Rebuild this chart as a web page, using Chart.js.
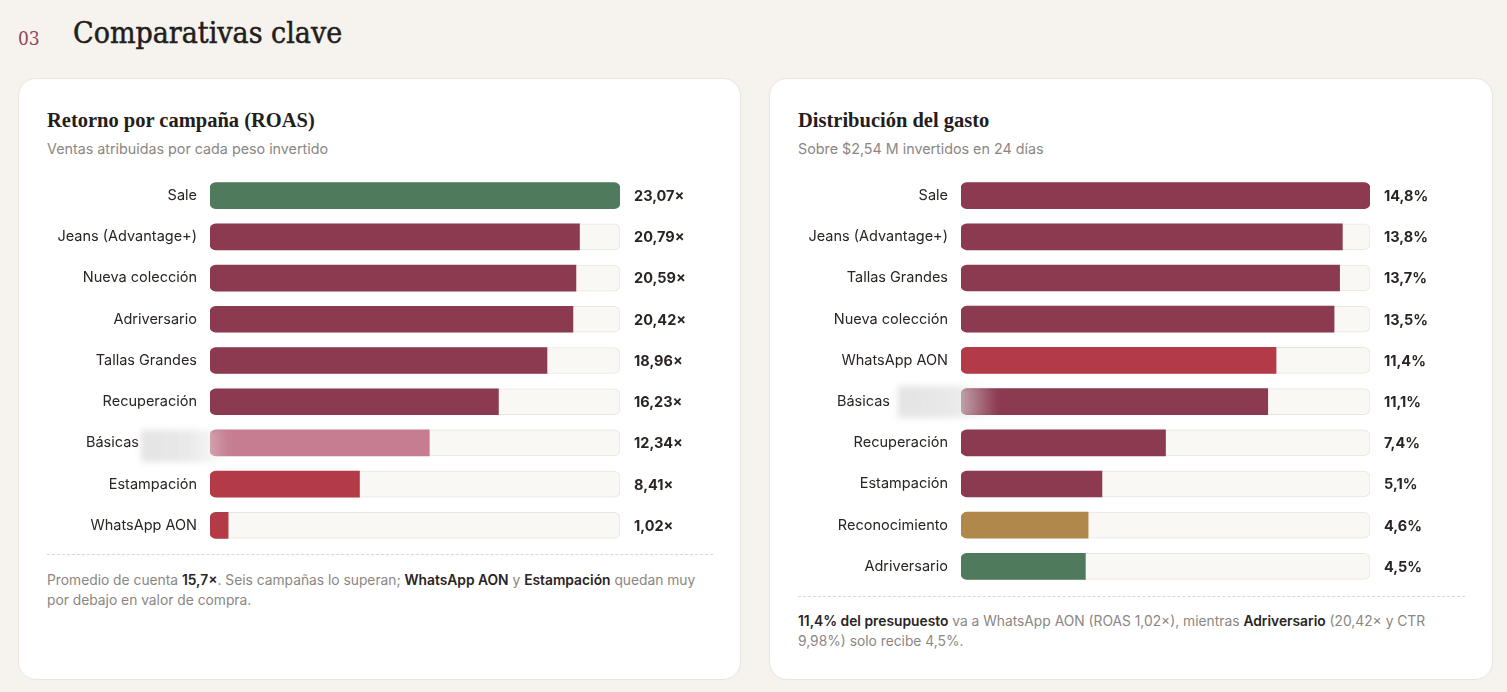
<!DOCTYPE html>
<html lang="es">
<head>
<meta charset="utf-8">
<title>Comparativas clave</title>
<script src="https://cdn.jsdelivr.net/npm/chart.js@4.4.1/dist/chart.umd.min.js"></script>
<style>
html, body { margin: 0; padding: 0; }
body { width: 1507px; height: 692px; background: #f6f2ee; position: relative; overflow: hidden;
       font-family: Inter, "Noto Sans", sans-serif; color: #2a2422; }
.abs { position: absolute; }
.num { left: 18px; top: 26px; font: 19px "DejaVu Serif", serif; font-stretch: condensed; line-height: 24px; color: #8e4558; }
.h1 { left: 73px; top: 13px; font: 30px "DejaVu Serif", serif; font-stretch: condensed; line-height: 40px; color: #231d1b;
      margin: 0; font-weight: normal; -webkit-text-stroke: 0.5px #231d1b; }
.card { background: #fff; border: 1px solid #ebe5df; border-radius: 18px; box-sizing: border-box; top: 78px; height: 602px; }
.ctitle { font: bold 20.5px "Liberation Serif", serif; line-height: 24px; top: 108px; color: #231d1b; }
.csub { font-size: 14.3px; line-height: 18px; color: #8b8682; top: 140px; }
.sep { height: 0; border-top: 1px dashed #ddd7d1; }
.note { font-size: 13.8px; line-height: 20px; color: #8b8682; }
.note b { color: #2a2422; font-weight: 600; }
.blur { background: linear-gradient(to right, rgba(226,226,226,0.95), rgba(226,226,226,0.75) 55%, rgba(226,226,226,0)); filter: blur(3px); }
</style>
</head>
<body>
<script>
// ROAS por campaña
const roasLabels = ["Sale", "Jeans (Advantage+)", "Nueva colección", "Adriversario", "Tallas Grandes", "Recuperación", "Básicas", "Estampación", "WhatsApp AON"];
const roasValues = [23.07, 20.79, 20.59, 20.42, 18.96, 16.23, 12.34, 8.41, 1.02];
const roasColors = ["#507a5c", "#8b3a50", "#8b3a50", "#8b3a50", "#8b3a50", "#8b3a50", "#c77d91", "#b33a47", "#b33a47"];

// Distribución del gasto (%)
const spendLabels = ["Sale", "Jeans (Advantage+)", "Tallas Grandes", "Nueva colección", "WhatsApp AON", "Básicas", "Recuperación", "Estampación", "Reconocimiento", "Adriversario"];
const spendValues = [14.8, 13.8, 13.7, 13.5, 11.4, 11.1, 7.4, 5.1, 4.6, 4.5];
const spendColors = ["#8b3a50", "#8b3a50", "#8b3a50", "#8b3a50", "#b33a47", "#8b3a50", "#8b3a50", "#8b3a50", "#b0884c", "#507a5c"];

// label whose tail is hidden in the original
const hiddenTail = "Básicas";
</script>

<div class="abs num">03</div>
<h1 class="abs h1">Comparativas clave</h1>

<div class="abs card" style="left:18px;width:723px"></div>
<div class="abs card" style="left:769px;width:724px"></div>

<div class="abs ctitle" style="left:47px">Retorno por campaña (ROAS)</div>
<div class="abs csub" style="left:47px">Ventas atribuidas por cada peso invertido</div>
<canvas id="roasChart" class="abs" style="left:47px;top:175px" width="666" height="371"></canvas>
<div class="abs sep" style="left:47px;top:554px;width:666px"></div>
<div class="abs note" style="left:47px;top:570px;width:690px">Promedio de cuenta <b>15,7×</b>. Seis campañas lo superan; <b>WhatsApp AON</b> y <b>Estampación</b> quedan muy<br>por debajo en valor de compra.</div>

<div class="abs ctitle" style="left:798px">Distribución del gasto</div>
<div class="abs csub" style="left:798px">Sobre $2,54 M invertidos en 24 días</div>
<canvas id="spendChart" class="abs" style="left:798px;top:175px" width="667" height="412"></canvas>
<div class="abs sep" style="left:798px;top:596px;width:667px"></div>
<div class="abs note" style="left:798px;top:611px;width:690px"><b>11,4% del presupuesto</b> va a WhatsApp AON (ROAS 1,02×), mientras <b>Adriversario</b> (20,42× y CTR<br>9,98%) solo recibe 4,5%.</div>

<div class="abs blur" style="left:141px;top:430px;width:88px;height:32px"></div>
<div class="abs blur" style="left:898px;top:386px;width:100px;height:32px"></div>

<script>
// draws the value next to each bar
const valueLabels = {
    id: 'valueLabels',
    afterDatasetsDraw(chart, args, opts) {
        const ctx = chart.ctx;
        const meta = chart.getDatasetMeta(0);
        ctx.save();
        ctx.font = '700 14.5px Inter, sans-serif';
        ctx.fillStyle = '#2a2422';
        ctx.textBaseline = 'middle';
        ctx.textAlign = 'left';
        meta.data.forEach((bar, i) => {
            ctx.fillText(opts.format(chart.data.datasets[0].data[i]), chart.chartArea.right + 14, bar.y + 1);
        });
        ctx.restore();
    }
};

const makeBarChart = (id, labels, values, colors, padRight, format) => {
    const max = Math.max(...values);
    return new Chart(document.getElementById(id), {
        type: 'bar',
        data: {
            labels: labels,
            datasets: [{
                data: values,
                backgroundColor: colors,
                borderWidth: 0,
                borderSkipped: false,
                borderRadius: (c) => {
                    const r = c.raw >= max ? 6 : 0;
                    return { topLeft: 6, bottomLeft: 6, topRight: r, bottomRight: r };
                },
                barThickness: 26,
                grouped: false
            }, {
                data: labels.map(() => max),
                backgroundColor: '#faf8f5',
                borderColor: '#ebe5df',
                borderWidth: 1,
                borderRadius: 6,
                borderSkipped: false,
                barThickness: 26,
                grouped: false
            }]
        },
        options: {
            indexAxis: 'y',
            responsive: false,
            animation: false,
            layout: { padding: { right: padRight } },
            plugins: {
                legend: { display: false },
                tooltip: { enabled: false },
                valueLabels: { format: format }
            },
            scales: {
                x: { display: false, min: 0, max: max },
                y: {
                    grid: { display: false, drawTicks: false },
                    border: { display: false },
                    ticks: {
                        padding: 13,
                        color: '#2a2422',
                        font: { family: 'Inter', size: 14.5 },
                        callback: function (v) {
                            const l = this.getLabelForValue(v);
                            return l === hiddenTail ? l + '\u2003\u2003\u2003\u2003' : l;
                        }
                    },
                    afterFit: (s) => {
                        s.width = 163;
                        s.paddingTop = 0;
                        s.paddingBottom = 0;
                    }
                }
            }
        },
        plugins: [valueLabels]
    });
};

makeBarChart('roasChart', roasLabels, roasValues, roasColors, 93,
    (v) => v.toFixed(2).replace('.', ',') + '×');
makeBarChart('spendChart', spendLabels, spendValues, spendColors, 95,
    (v) => v.toFixed(1).replace('.', ',') + '%');
</script>
</body>
</html>
